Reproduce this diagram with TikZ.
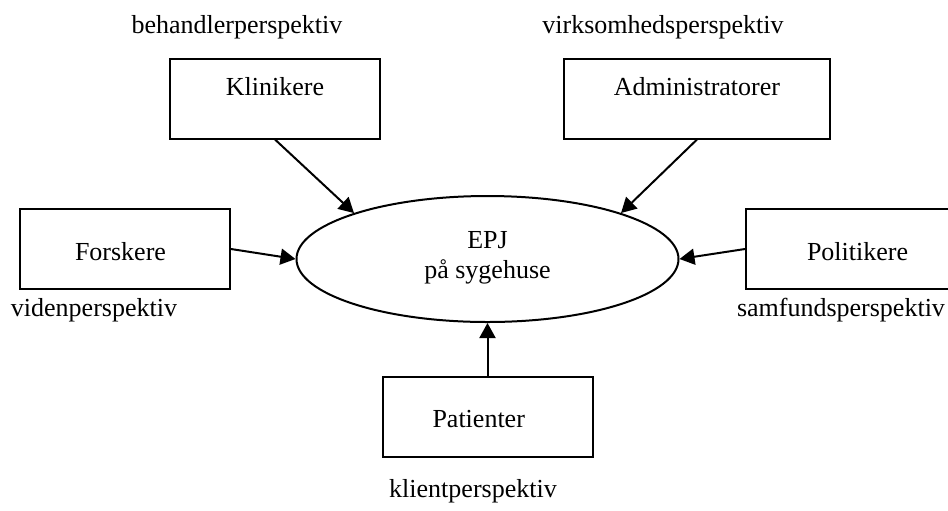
\documentclass[tikz,border=0pt]{standalone}
\usepackage{fontspec}
\setmainfont{Liberation Serif}
\usetikzlibrary{shapes.geometric,arrows.meta}
\begin{document}
\begin{tikzpicture}[x=0.5pt,y=-0.5pt,
    font=\fontsize{13pt}{15pt}\selectfont,
    box/.style={draw,line width=1pt,minimum width=105pt,minimum height=40pt,inner sep=0pt},
    topbox/.style={box,text height=11pt,text depth=14.5pt},
    midbox/.style={box,text height=11pt,text depth=0pt,align=left},
    arr/.style={line width=1pt,-{Triangle[length=7.5pt,width=8pt]}},
    persp/.style={anchor=base}]
    \useasboundingbox (0,0) rectangle (948,510);
    %% EPJ
    \node[ellipse,draw,line width=1pt,minimum width=191pt,minimum height=63pt,
          align=center,inner sep=0pt,text depth=4pt] (epj) at (487.5,259) {EPJ\\på sygehuse};
    %% Actors
    \node[topbox] (klin) at (275,98.5) {Klinikere};
    \node[topbox,minimum width=133pt] (adm) at (697,98.5) {Administratorer};
    \node[midbox,text width=50pt,inner xsep=27.5pt] (forsk) at (125,249) {Forskere};
    \node[midbox,text width=60pt,inner xsep=30.5pt] (pol) at (867,249) {Politikere};
    \node[midbox,text width=55pt,inner xsep=25pt] (pat) at (487.5,416.5) {Patienter};
    %% Arrows
    \draw[arr] (klin.south) -- (epj.161);
    \draw[arr] (adm.south) -- (epj.19);
    \draw[arr] (forsk.east) -- (epj.west);
    \draw[arr] (pol.west) -- (epj.east);
    \draw[arr] (pat.north) -- (epj.south);
    %% Perspectives
    \node[persp] (behand) at (237,33) {behandlerperspektiv};
    \node[persp] (virk) at (663,33) {virksomhedsperspektiv};
    \node[persp] (viden) at (94,316) {videnperspektiv};
    \node[persp] (samf) at (841,316) {samfundsperspektiv};
    \node[persp] (klient) at (473,497) {klientperspektiv};
\end{tikzpicture}
\end{document}
